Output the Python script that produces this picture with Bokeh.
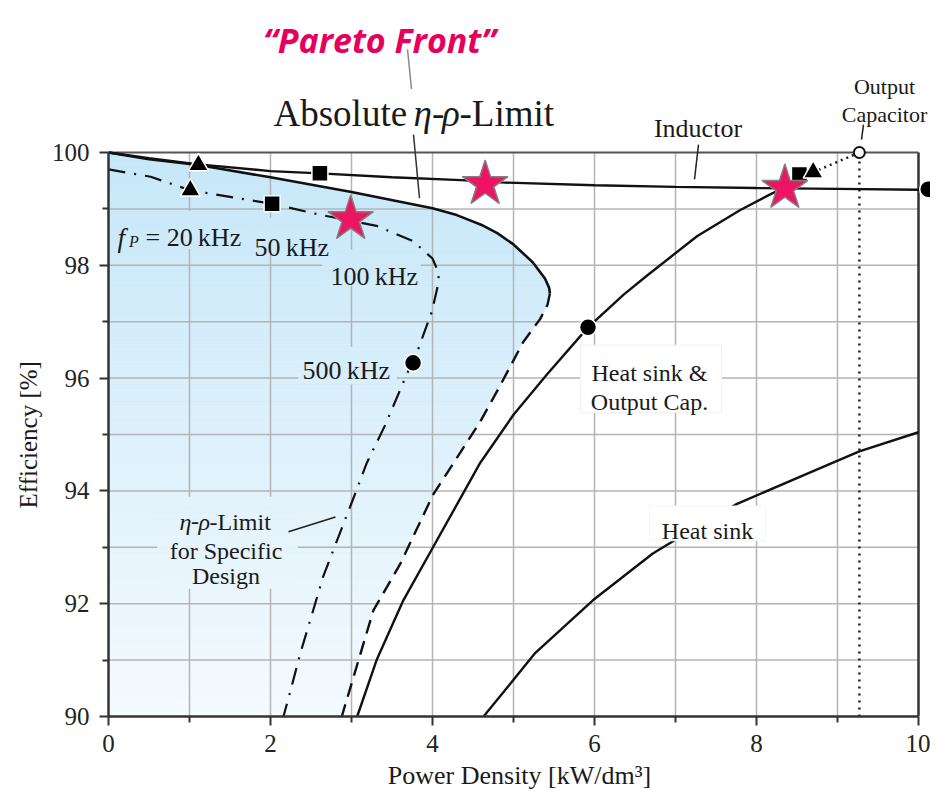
import numpy as np
from bokeh.plotting import figure
from bokeh.models import Label, FixedTicker, Range1d, Title
from bokeh.embed import file_html
from bokeh.resources import INLINE

# ---------------- data ----------------
x_ticks = [0, 2, 4, 6, 8, 10]
x_minor = [1, 3, 5, 7, 9]
y_ticks = [90, 92, 94, 96, 98, 100]
y_minor = [91, 93, 95, 97, 99]

# absolute eta-rho limit (solid upper part, dashed lower part)
abs_hi_x = [0.0, 0.5, 1.11, 2.0, 3.0, 4.0, 4.3, 4.6, 4.8, 5.0, 5.24, 5.39, 5.44, 5.45]
abs_hi_y = [100.0, 99.88, 99.78, 99.56, 99.30, 99.01, 98.89, 98.72, 98.57, 98.37, 98.05, 97.76, 97.6, 97.5]
abs_lo_x = [5.45, 5.42, 5.33, 5.12, 4.84, 4.59, 4.01, 3.6, 3.27, 2.88]
abs_lo_y = [97.5, 97.3, 97.05, 96.64, 95.88, 95.23, 93.94, 92.7, 91.88, 90.0]

# eta-rho limit for specific design (dash-dot)
spec_x = [0.0, 0.52, 1.01, 2.02, 2.6, 3.31, 3.76, 4.0, 4.08, 4.06, 3.99, 3.81, 3.68, 3.42,
          3.19, 3.01, 2.84, 2.65, 2.51, 2.37, 2.24, 2.16]
spec_y = [99.7, 99.57, 99.33, 99.09, 98.9, 98.7, 98.43, 98.12, 97.85, 97.6, 97.17, 96.46,
          96.06, 95.18, 94.5, 93.82, 93.19, 92.48, 91.8, 91.13, 90.42, 90.0]

# inductor
ind_x = [0.0, 0.5, 1.11, 2.0, 2.61, 3.5, 4.35, 4.84, 6.0, 7.0, 8.0, 9.0, 10.0, 10.12]
ind_y = [100.0, 99.9, 99.79, 99.67, 99.63, 99.56, 99.51, 99.47, 99.42, 99.39, 99.37, 99.355, 99.34, 99.34]

# heat sink & output capacitor
hsc_x = [3.07, 3.31, 3.64, 4.01, 4.59, 5.0, 5.41, 5.92, 6.36, 6.65, 7.27, 7.8, 8.2, 8.35]
hsc_y = [90.0, 91.0, 92.06, 93.01, 94.5, 95.35, 96.06, 96.9, 97.48, 97.82, 98.52, 98.98, 99.28, 99.37]

# heat sink
hs_x = [4.63, 5.0, 5.27, 5.98, 6.72, 7.02, 7.76, 8.7, 9.27, 10.0]
hs_y = [90.0, 90.65, 91.13, 92.06, 92.89, 93.15, 93.77, 94.35, 94.7, 95.04]

# markers
tri_x = [1.11, 1.01, 8.70]      # 20 kHz
tri_y = [99.78, 99.33, 99.65]
sq_x = [2.61, 2.02, 8.53]       # 50 kHz
sq_y = [99.63, 99.09, 99.61]
star_x = [2.99, 4.65, 8.35]     # 100 kHz / Pareto front
star_y = [98.82, 99.44, 99.37]
dot_x = [3.76, 5.92, 10.12]     # 500 kHz / component ends
dot_y = [96.27, 96.9, 99.35]
cap_x = [9.27]                  # output capacitor
cap_y = [100.0]

# ---------------- layout ----------------
W, H = 930, 795
BL, BR, BT = 108, 0, 0
PXX = 81.0          # px per x unit
PXY = 56.4          # px per y unit in the figure
Y100 = 152          # canvas px of y = 100
BB = H - Y100 - int(round(10 * PXY))
x_end = (W - BL - BR) / PXX
y_end = 100 + Y100 / PXY


def X(px):  # reference pixel -> data x
    return (px - 108.0) / PXX


def Y(py):  # reference pixel -> data y
    return 100.0 - (py - 156.0) / 56.8


TOP = np.array([198, 231, 249])
BOT = np.array([244, 250, 254])


def grad(y):
    t = min(max((y - 90.0) / 10.0, 0.0), 1.0)
    c = BOT + (TOP - BOT) * t
    return "#%02x%02x%02x" % tuple(int(round(v)) for v in c)


p = figure(width=W, height=H, x_range=Range1d(0, x_end), y_range=Range1d(90, y_end),
           output_backend="svg", toolbar_location=None,
           min_border_left=BL, min_border_right=BR, min_border_top=BT, min_border_bottom=BB)
p.outline_line_color = None
p.background_fill_color = "white"
p.border_fill_color = "white"
p.grid.visible = False

# ---------------- gradient fill of the feasible region ----------------
bx = np.array(abs_hi_x + abs_lo_x[1:])
by = np.array(abs_hi_y + abs_lo_y[1:])
ya, xa = by[::-1], bx[::-1]
edges = np.linspace(90, 100, 101)
pxs, pys, pcs = [], [], []
for y0, y1 in zip(edges[:-1], edges[1:]):
    inner = [(xa[j], ya[j]) for j in range(len(ya)) if y0 < ya[j] < y1]
    xs = [0.0, float(np.interp(y0, ya, xa))] + [q[0] for q in inner] + [float(np.interp(y1, ya, xa)), 0.0]
    ys = [y0, y0] + [q[1] for q in inner] + [y1, y1]
    pxs.append(xs)
    pys.append(ys)
    pcs.append(grad(0.5 * (y0 + y1)))
p.patches(pxs, pys, fill_color=pcs, line_color=pcs, line_width=0.6, level="image")

# ---------------- grid ----------------
gx = sorted(x_ticks + x_minor)[1:-1]
gy = sorted(y_ticks + y_minor)[1:-1]
p.segment(x0=gx, y0=[y_ticks[0]] * len(gx), x1=gx, y1=[y_ticks[-1]] * len(gx),
          line_color="#b4b4b4", line_width=1.5, level="underlay")
p.segment(x0=[x_ticks[0]] * len(gy), y0=gy, x1=[x_ticks[-1]] * len(gy), y1=gy,
          line_color="#b4b4b4", line_width=1.5, level="underlay")


# label boxes (cover grid lines, keep gradient)
def grad_box(px0, px1, py0, py1):
    xl, xr = X(px0), X(px1)
    yt, yb = Y(py0), Y(py1)
    L, R, B, T, C = [], [], [], [], []
    for e0, e1 in zip(edges[:-1], edges[1:]):
        lo, hi = max(e0, yb), min(e1, yt)
        if hi > lo:
            L.append(xl); R.append(xr); B.append(lo); T.append(hi); C.append(grad(0.5 * (e0 + e1)))
    p.quad(left=L, right=R, bottom=B, top=T, fill_color=C, line_color=C, line_width=0.6, level="underlay")


grad_box(112, 250, 215, 253)    # f_P = 20 kHz
grad_box(250, 334, 222, 258)    # 50 kHz
grad_box(322, 420, 254, 290)    # 100 kHz
grad_box(298, 396, 352, 389)    # 500 kHz
grad_box(157, 297, 503, 595)    # eta-rho-Limit for Specific Design
p.quad(left=X(580), right=X(721), top=Y(350), bottom=Y(418), fill_color="white",
       line_color="#f0f0f0", line_width=1, level="underlay")

# frame top / right
p.segment(x0=[x_ticks[0]], y0=[y_ticks[-1]], x1=[x_ticks[-1]], y1=[y_ticks[-1]], line_color="#555555", line_width=2)
p.segment(x0=[x_ticks[-1]], y0=[y_ticks[0]], x1=[x_ticks[-1]], y1=[y_ticks[-1]], line_color="#333333", line_width=2.5)

# ---------------- curves ----------------
LC = "#111111"
p.line(abs_hi_x, abs_hi_y, line_color=LC, line_width=2.6)
p.line(abs_lo_x, abs_lo_y, line_color=LC, line_width=2.4, line_dash="14 8")
p.line(spec_x, spec_y, line_color=LC, line_width=2.2, line_dash="17 9 2 9")
p.line(ind_x, ind_y, line_color=LC, line_width=2.4)
p.line(hsc_x, hsc_y, line_color=LC, line_width=2.4)
p.line(hs_x, hs_y, line_color=LC, line_width=2.4)
p.line([cap_x[0], cap_x[0]], [y_ticks[0], cap_y[0]], line_color="#222222", line_width=2.5, line_dash="2 5")
p.line([tri_x[2], cap_x[0]], [tri_y[2], cap_y[0]], line_color="#222222", line_width=2.5, line_dash="2 4")

# "Heat sink" box covers its line
p.quad(left=X(649), right=X(765), top=Y(512), bottom=Y(547), fill_color="white", line_color="#f4f4f4")

# leader lines
p.segment(x0=X(407), y0=Y(52), x1=X(411), y1=Y(92), line_color="#888888", line_width=1.5)
p.segment(x0=X(413), y0=Y(138), x1=X(419), y1=Y(202), line_color="#333333", line_width=1.5)
p.segment(x0=X(698), y0=Y(148), x1=X(694), y1=Y(183), line_color="#222222", line_width=1.5)
p.segment(x0=X(863), y0=Y(128), x1=X(861), y1=Y(143), line_color="#222222", line_width=1.5)
p.segment(x0=X(288), y0=Y(538), x1=X(335), y1=Y(523), line_color="#222222", line_width=1.5)

# ---------------- markers ----------------
p.scatter(sq_x, sq_y, marker="square", size=16, fill_color="black", line_color="white", line_width=1.5)
p.scatter(tri_x, tri_y, marker="triangle", size=20, fill_color="black", line_color="white", line_width=1.5)
p.scatter(dot_x, dot_y, marker="circle", size=17, fill_color="black", line_color="white", line_width=1.5)
p.scatter(cap_x, cap_y, marker="circle", size=11, fill_color="white", line_color="#111111", line_width=2)
p.scatter(star_x, star_y, marker="star", size=48, fill_color="#ee1464", line_color="#808080", line_width=1.5)

# ---------------- axes ----------------
SERIF = "Liberation Serif"
for ax, t, m, b in ((p.xaxis, x_ticks, x_minor, (0, 10)), (p.yaxis, y_ticks, y_minor, (90, 100))):
    ax.ticker = FixedTicker(ticks=t, minor_ticks=m)
    ax.bounds = b
    ax.axis_line_color = "#333333"
    ax.axis_line_width = 2.5
    ax.major_tick_line_color = "#333333"
    ax.minor_tick_line_color = "#333333"
    ax.major_tick_line_width = 2
    ax.minor_tick_line_width = 2
    ax.major_tick_in = 0
    ax.major_tick_out = 9
    ax.minor_tick_in = 0
    ax.minor_tick_out = 6
    ax.major_label_text_font = SERIF
    ax.major_label_text_font_size = "25px"
    ax.major_label_text_color = "#222222"
    ax.axis_label_text_font = SERIF
    ax.axis_label_text_font_style = "normal"
    ax.axis_label_text_color = "#1a1a1a"

p.xaxis.major_label_standoff = 9
p.xaxis.axis_label = "Power Density [kW/dm\u00b3]"
p.xaxis.axis_label_text_font_size = "26px"
p.xaxis.axis_label_standoff = 6
p.yaxis.major_label_standoff = 10

# y-axis title in the left panel; start of the text placed so it is centred on the 90..100 span
p.add_layout(Title(text="Efficiency [%]", align="left", offset=208, standoff=14,
                   text_font=SERIF, text_font_style="normal", text_font_size="25px",
                   text_color="#1a1a1a"), "left")


def lab(px, py, text, size, align="left", style="normal", font=SERIF, color="#1a1a1a",
        baseline="alphabetic"):
    p.add_layout(Label(x=X(px), y=Y(py), text=text, text_font=font, text_font_size=size,
                       text_font_style=style, text_color=color, text_align=align,
                       text_baseline=baseline))


# titles / annotations
lab(379, 43, "\u201cPareto Front\u201d", "34px", align="center", style="bold italic", font="Open Sans",
    color="#e6005c")
lab(273, 117, "Absolute", "37px")
lab(413, 117, "\u03b7", "37px", style="italic")
lab(431.5, 117, "-", "37px")
lab(441.5, 117, "\u03c1", "37px", style="italic")
lab(459, 117, "-Limit", "37px")

lab(697.5, 132, "Inductor", "26px", align="center")
lab(884, 90, "Output", "22px", align="center")
lab(884, 118, "Capacitor", "22px", align="center")

lab(117, 242, "f", "27px", style="italic")
lab(128.5, 246, "P", "16px", style="italic")
lab(145, 242, "= 20\u2009kHz", "26px")
lab(254, 252, "50\u2009kHz", "26px")
lab(330, 281, "100\u2009kHz", "26px")
lab(302, 376, "500\u2009kHz", "26px")

lab(649, 378, "Heat sink &", "24px", align="center")
lab(649, 407, "Output Cap.", "24px", align="center")
lab(707, 537, "Heat sink", "24px", align="center")

lab(179, 528, "\u03b7", "24px", style="italic")
lab(190.5, 528, "-", "24px")
lab(198, 528, "\u03c1", "24px", style="italic")
lab(209, 528, "-Limit", "24px")
lab(225.5, 557, "for Specific", "24px", align="center")
lab(225.5, 582, "Design", "24px", align="center")

open("out.html", "w").write(file_html(p, INLINE))
